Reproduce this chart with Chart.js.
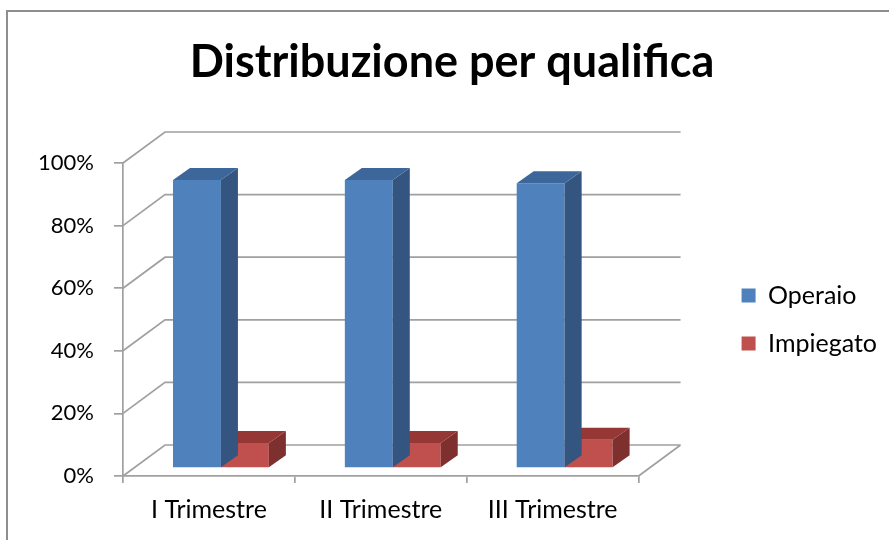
<!DOCTYPE html>
<html>
<head>
<meta charset="utf-8">
<script src="https://cdn.jsdelivr.net/npm/chart.js@4/dist/chart.umd.min.js"></script>
<style>
  html, body { margin: 0; padding: 0; background: #fff; }
  #wrap { width: 889px; height: 540px; position: relative; }
</style>
</head>
<body>
<div id="wrap"><canvas id="c" width="889" height="540"></canvas></div>
<script>
// ---- data ----
const categories = ['I Trimestre', 'II Trimestre', 'III Trimestre'];
const operaio = [92, 92, 91];
const impiegato = [8, 8, 9];
const seriesNames = ['Operaio', 'Impiegato'];
const yTicks = [0, 20, 40, 60, 80, 100];

// ---- style ----
const FRONT = ['#4F81BD', '#C0504D'];
const SIDE = ['#34557F', '#7E302E'];
const TOP = ['#3D679A', '#943735'];
const GRID = '#A0A0A0';
const WALL_DX = 42, WALL_DY = -31;   // depth of the walls
const BAR_DX = 12, BAR_DY = -8;      // position of bar fronts in depth
const BAR_DEPTH_X = 17, BAR_DEPTH_Y = -12;
const FONT = 'Lato, "Open Sans", sans-serif';

const depthPlugin = {
  id: 'depth',
  beforeDraw(chart) {
    const ctx = chart.ctx;
    ctx.save();
    ctx.fillStyle = '#fff';
    ctx.fillRect(0, 0, chart.width, chart.height);
    ctx.strokeStyle = '#8E8E8E';
    ctx.lineWidth = 2;
    ctx.beginPath();
    ctx.moveTo(7, chart.height + 5);
    ctx.lineTo(7, 11);
    ctx.lineTo(chart.width + 5, 11);
    ctx.stroke();
    ctx.restore();
  },
  beforeDatasetsDraw(chart) {
    const ctx = chart.ctx;
    const ys = chart.scales.y;
    const a = chart.chartArea;
    ctx.save();
    ctx.strokeStyle = GRID;
    ctx.lineWidth = 1.7;
    ctx.beginPath();
    ys.ticks.forEach(t => {
      const py = ys.getPixelForValue(t.value);
      ctx.moveTo(a.left, py);
      ctx.lineTo(a.left + WALL_DX, py + WALL_DY);
      ctx.lineTo(a.right + WALL_DX, py + WALL_DY);
    });
    const base = ys.getPixelForValue(0);
    ctx.moveTo(a.right, base);
    ctx.lineTo(a.right + WALL_DX, base + WALL_DY);
    ctx.stroke();
    ctx.restore();
    ctx.save();
    ctx.translate(BAR_DX, BAR_DY);
  },
  afterDatasetDraw(chart, args) {
    const ctx = chart.ctx;
    const i = args.index;
    const meta = args.meta;
    meta.data.forEach(bar => {
      const p = bar.getProps(['x', 'y', 'base', 'width'], true);
      const l = p.x - p.width / 2, r = p.x + p.width / 2;
      const top = Math.min(p.y, p.base), bot = Math.max(p.y, p.base);
      // side face
      ctx.fillStyle = SIDE[i];
      ctx.beginPath();
      ctx.moveTo(r, top);
      ctx.lineTo(r + BAR_DEPTH_X, top + BAR_DEPTH_Y);
      ctx.lineTo(r + BAR_DEPTH_X, bot + BAR_DEPTH_Y);
      ctx.lineTo(r, bot);
      ctx.closePath();
      ctx.fill();
      // top face
      ctx.fillStyle = TOP[i];
      ctx.beginPath();
      ctx.moveTo(l, top);
      ctx.lineTo(l + BAR_DEPTH_X, top + BAR_DEPTH_Y);
      ctx.lineTo(r + BAR_DEPTH_X, top + BAR_DEPTH_Y);
      ctx.lineTo(r, top);
      ctx.closePath();
      ctx.fill();
    });
  },
  afterDatasetsDraw(chart) {
    chart.ctx.restore();
  }
};

new Chart(document.getElementById('c'), {
  type: 'bar',
  data: {
    labels: categories,
    datasets: [
      { label: seriesNames[0], data: operaio, backgroundColor: FRONT[0], borderWidth: 0 },
      { label: seriesNames[1], data: impiegato, backgroundColor: FRONT[1], borderWidth: 0 }
    ]
  },
  options: {
    responsive: false,
    animation: false,
    events: [],
    layout: { padding: { left: 17, right: 2, top: 0, bottom: 0 } },
    datasets: { bar: { categoryPercentage: 0.558, barPercentage: 1 } },
    scales: {
      x: {
        grid: { display: true, drawOnChartArea: false, offset: true, tickLength: 7, color: GRID, lineWidth: 1.7 },
        border: { display: true, color: GRID, width: 1.7 },
        ticks: { font: { family: FONT, size: 25 }, color: '#000', padding: 12, maxRotation: 0 },
        afterFit(s) { s.height = 64; }
      },
      y: {
        min: 0, max: 100,
        afterBuildTicks(s) { s.ticks = yTicks.map(v => ({ value: v })); },
        grid: { display: true, drawOnChartArea: false, tickLength: 9, color: GRID, lineWidth: 1.7 },
        border: { display: true, color: GRID, width: 1.7 },
        ticks: { font: { family: FONT, size: 22 }, color: '#000', padding: 20, callback: v => v + '%' },
        afterFit(s) { s.width = 106; }
      },
      gap: {
        type: 'linear', position: 'right', display: false,
        afterFit(s) { s.width = 80; }
      }
    },
    plugins: {
      tooltip: { enabled: false },
      title: {
        display: true,
        text: 'Distribuzione per qualifica',
        color: '#000',
        font: { family: FONT, size: 45, weight: 'bold', lineHeight: 1.2 },
        padding: { top: 35, bottom: 74 }
      },
      legend: {
        position: 'right',
        fullSize: false,
        labels: {
          font: { family: FONT, size: 25 },
          color: '#000',
          boxWidth: 14, boxHeight: 14,
          padding: 23,
          generateLabels(chart) {
            return chart.data.datasets.map((d, i) => ({
              text: d.label, fillStyle: d.backgroundColor, strokeStyle: d.backgroundColor,
              lineWidth: 0, hidden: false, datasetIndex: i
            }));
          }
        }
      }
    }
  },
  plugins: [depthPlugin]
});
</script>
</body>
</html>
